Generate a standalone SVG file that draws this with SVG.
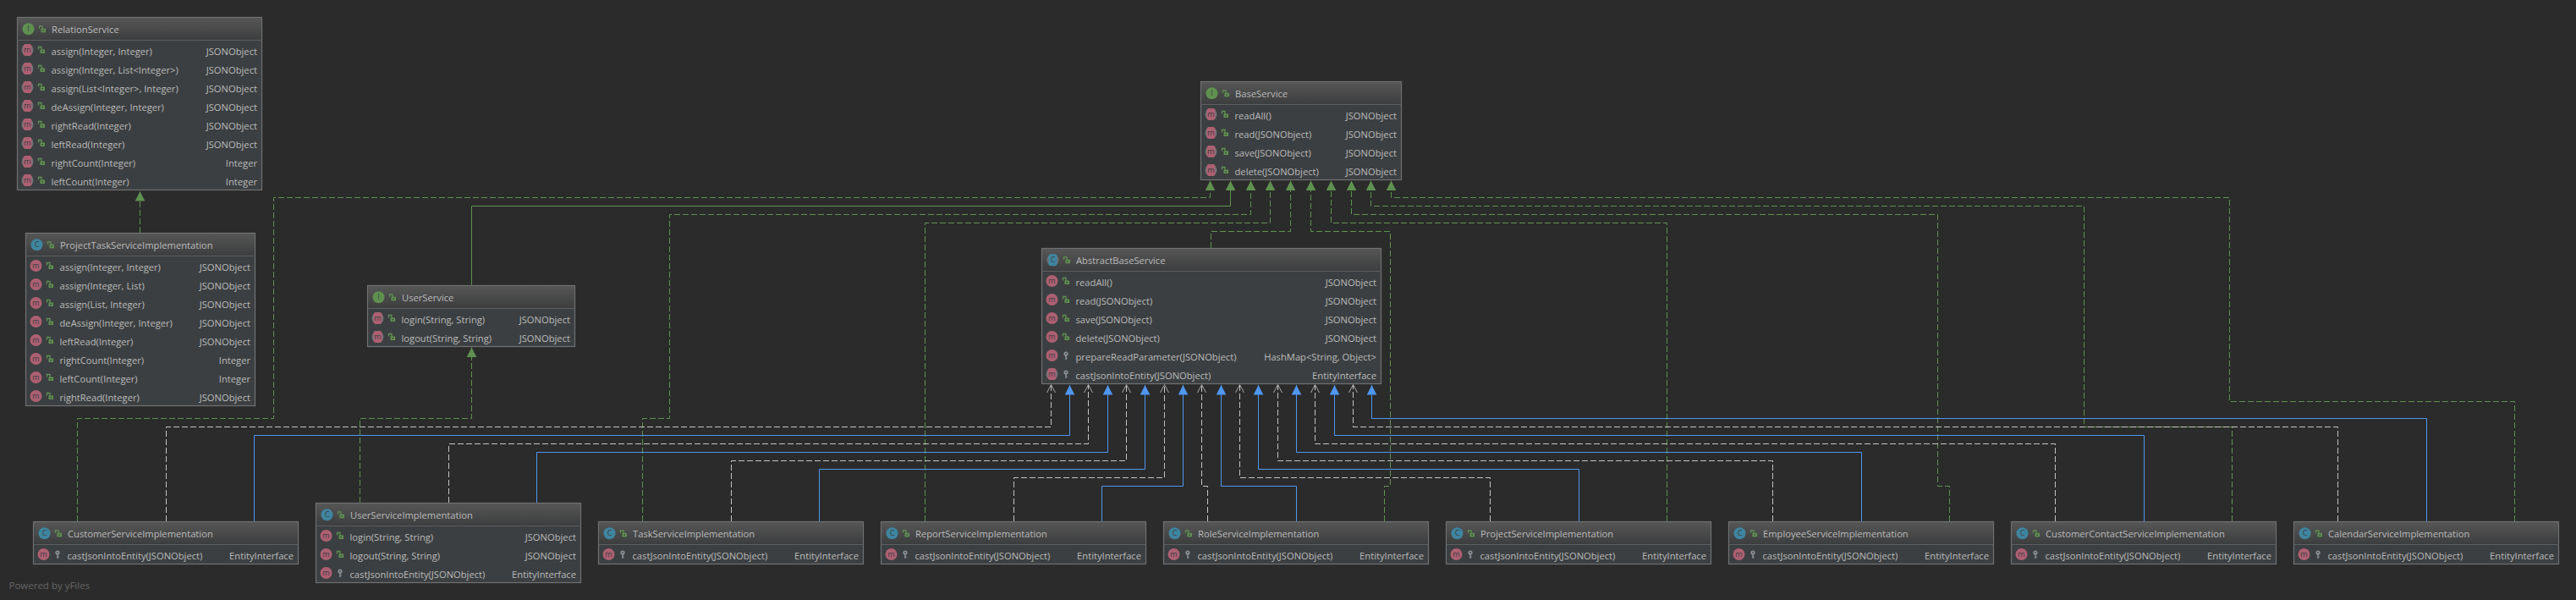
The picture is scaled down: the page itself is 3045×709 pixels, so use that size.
<svg xmlns="http://www.w3.org/2000/svg" width="3045" height="709" viewBox="0 0 3045 709">
<style>
.bg{fill:#2b2b2b}
.box{fill:#3c3f41;stroke:#6f7173;stroke-width:1.2}
.hd{fill:url(#hg)}
.sep{stroke:#5c5e60;stroke-width:1;fill:none}
text{font-family:"Open Sans","Noto Sans","Liberation Sans",sans-serif;fill:#bbbbbb}
.h{font-size:11.2px}
.t{font-size:11.2px}
.r{font-size:11.2px;text-anchor:end}
.il{font-size:9px;text-anchor:middle;fill:#3b3f41}
.c{fill:none;stroke-width:1}
.gd{stroke:#5f9150;stroke-dasharray:7 3;marker-end:url(#tg)}
.gs{stroke:#5f9150;marker-end:url(#tg)}
.wd{stroke:#c4c4c4;stroke-dasharray:7 3;marker-end:url(#oa)}
.bs{stroke:#4f97f0;marker-end:url(#tb)}
.pw{font-size:11.5px;fill:#666666}
</style>
<defs>
<linearGradient id="hg" x1="0" y1="0" x2="0" y2="1"><stop offset="0" stop-color="#565656"/><stop offset="1" stop-color="#3c3d3e"/></linearGradient>
<marker id="tg" markerUnits="userSpaceOnUse" markerWidth="12" markerHeight="12" refX="11.5" refY="6" orient="auto"><path d="M0 0.2L11.5 6L0 11.8Z" fill="#5f9150"/></marker>
<marker id="tb" markerUnits="userSpaceOnUse" markerWidth="12" markerHeight="12" refX="11.5" refY="6" orient="auto"><path d="M0 0.2L11.5 6L0 11.8Z" fill="#4f97f0"/></marker>
<marker id="oa" markerUnits="userSpaceOnUse" markerWidth="12" markerHeight="12" refX="11" refY="6" orient="auto"><path d="M1.5 1L11 6L1.5 11" fill="none" stroke="#a8a8a8" stroke-width="1"/></marker>
<g id="m"><circle r="7" fill="#ad6072"/><text class="il" y="3">m</text></g>
<g id="ma"><circle r="7" fill="#6d7276"/><rect x="-5" y="-7" width="10" height="14" rx="3" fill="#ad6072"/><text class="il" y="3">m</text></g>
<g id="ci"><circle r="7" fill="#3f85a0"/><text class="il" y="3">C</text></g>
<g id="ca"><circle r="7" fill="#6d7276"/><rect x="-5" y="-7" width="10" height="14" rx="3" fill="#3f85a0"/><text class="il" y="3">C</text></g>
<g id="ii"><circle r="7" fill="#5f9150"/><text class="il" y="3">I</text></g>
<g id="lk"><path d="M-3.5 -0.5V-3.5H0V0" fill="none" stroke="#5f9150" stroke-width="1.3"/><rect x="-1.5" y="-0.5" width="5.5" height="4.5" fill="#5f9150"/><rect x="0.5" y="1" width="1.5" height="1.5" fill="#3c3f41"/></g>
<g id="ky"><circle cy="-2" r="2.6" fill="#8a9096"/><circle cy="-2.2" r="0.9" fill="#3c3f41"/><rect x="-0.8" y="0" width="1.6" height="5" fill="#8a9096"/><rect x="0.8" y="2.5" width="1" height="1" fill="#8a9096"/></g>
</defs>
<rect class="bg" width="3045" height="709"/>
<g id="connectors">
<path class="c gd" d="M165.5 275V226"/>
<path class="c gd" d="M425.5 594V494.5H557.5V410.5"/>
<path class="c gd" d="M91.5 616V494.5H323.5V233.5H1430.5V213.5"/>
<path class="c gs" d="M557.5 337V243.5H1454.5V213.5"/>
<path class="c gd" d="M759.5 616V494.5H791.5V253.5H1478.5V213.5"/>
<path class="c gd" d="M1093.5 616V263.5H1501.5V213.5"/>
<path class="c gd" d="M1431.5 293V273.5H1525.5V213.5"/>
<path class="c gd" d="M1636.5 616V574.5H1643.5V273.5H1549.5V213.5"/>
<path class="c gd" d="M1970.5 616V263.5H1573.5V213.5"/>
<path class="c gd" d="M2304.5 616V574.5H2290.5V253.5H1597.5V213.5"/>
<path class="c gd" d="M2638.5 616V504.5H2463.5V243.5H1620.5V213.5"/>
<path class="c gd" d="M2972.5 616V474.5H2635.5V233.5H1644.5V213.5"/>
<path class="c wd" d="M196.5 616V504.5H1242.5V454.5"/>
<path class="c bs" d="M300.5 616V514.5H1264.5V455"/>
<path class="c wd" d="M530.5 594V524.5H1286.5V454.5"/>
<path class="c bs" d="M634.5 594V534.5H1309.5V455"/>
<path class="c wd" d="M864.5 616V544.5H1331.5V454.5"/>
<path class="c bs" d="M968.5 616V554.5H1353.5V455"/>
<path class="c wd" d="M1198.5 616V564.5H1376.5V454.5"/>
<path class="c bs" d="M1302.5 616V574.5H1398.5V455"/>
<path class="c wd" d="M1427.5 616V574.5H1420.5V454.5"/>
<path class="c bs" d="M1532.5 616V574.5H1443.5V455"/>
<path class="c wd" d="M1761.5 616V564.5H1465.5V454.5"/>
<path class="c bs" d="M1866.5 616V554.5H1487.5V455"/>
<path class="c wd" d="M2095.5 616V544.5H1510.5V454.5"/>
<path class="c bs" d="M2200.5 616V534.5H1532.5V455"/>
<path class="c wd" d="M2429.5 616V524.5H1554.5V454.5"/>
<path class="c bs" d="M2534.5 616V514.5H1577.5V455"/>
<path class="c wd" d="M2763.5 616V504.5H1599.5V454.5"/>
<path class="c bs" d="M2868.5 616V494.5H1621.5V455"/>
</g>
<g id="RelationService" transform="translate(20.5,20.5)">
<rect class="box" width="289" height="204"/><rect class="hd" x="0.5" y="0.5" width="288" height="26.5"/><path class="sep" d="M0 27H289"/>
<use href="#ii" x="13" y="13.8"/><use href="#lk" x="29.5" y="13.8"/><text class="h" x="40.5" y="18.5">RelationService</text>
<use href="#ma" x="12" y="38.5"/><use href="#lk" x="28.5" y="38.5"/><text class="t" x="40" y="44">assign(Integer, Integer)</text><text class="r" x="283.5" y="44">JSONObject</text>
<use href="#ma" x="12" y="60.5"/><use href="#lk" x="28.5" y="60.5"/><text class="t" x="40" y="66">assign(Integer, List&lt;Integer&gt;)</text><text class="r" x="283.5" y="66">JSONObject</text>
<use href="#ma" x="12" y="82.5"/><use href="#lk" x="28.5" y="82.5"/><text class="t" x="40" y="88">assign(List&lt;Integer&gt;, Integer)</text><text class="r" x="283.5" y="88">JSONObject</text>
<use href="#ma" x="12" y="104.5"/><use href="#lk" x="28.5" y="104.5"/><text class="t" x="40" y="110">deAssign(Integer, Integer)</text><text class="r" x="283.5" y="110">JSONObject</text>
<use href="#ma" x="12" y="126.5"/><use href="#lk" x="28.5" y="126.5"/><text class="t" x="40" y="132">rightRead(Integer)</text><text class="r" x="283.5" y="132">JSONObject</text>
<use href="#ma" x="12" y="148.5"/><use href="#lk" x="28.5" y="148.5"/><text class="t" x="40" y="154">leftRead(Integer)</text><text class="r" x="283.5" y="154">JSONObject</text>
<use href="#ma" x="12" y="170.5"/><use href="#lk" x="28.5" y="170.5"/><text class="t" x="40" y="176">rightCount(Integer)</text><text class="r" x="283.5" y="176">Integer</text>
<use href="#ma" x="12" y="192.5"/><use href="#lk" x="28.5" y="192.5"/><text class="t" x="40" y="198">leftCount(Integer)</text><text class="r" x="283.5" y="198">Integer</text>
</g>
<g id="ProjectTaskServiceImplementation" transform="translate(30.5,275.5)">
<rect class="box" width="271" height="204"/><rect class="hd" x="0.5" y="0.5" width="270" height="26.5"/><path class="sep" d="M0 27H271"/>
<use href="#ci" x="13" y="13.8"/><use href="#lk" x="29.5" y="13.8"/><text class="h" x="40.5" y="18.5">ProjectTaskServiceImplementation</text>
<use href="#m" x="12" y="38.5"/><use href="#lk" x="28.5" y="38.5"/><text class="t" x="40" y="44">assign(Integer, Integer)</text><text class="r" x="265.5" y="44">JSONObject</text>
<use href="#m" x="12" y="60.5"/><use href="#lk" x="28.5" y="60.5"/><text class="t" x="40" y="66">assign(Integer, List)</text><text class="r" x="265.5" y="66">JSONObject</text>
<use href="#m" x="12" y="82.5"/><use href="#lk" x="28.5" y="82.5"/><text class="t" x="40" y="88">assign(List, Integer)</text><text class="r" x="265.5" y="88">JSONObject</text>
<use href="#m" x="12" y="104.5"/><use href="#lk" x="28.5" y="104.5"/><text class="t" x="40" y="110">deAssign(Integer, Integer)</text><text class="r" x="265.5" y="110">JSONObject</text>
<use href="#m" x="12" y="126.5"/><use href="#lk" x="28.5" y="126.5"/><text class="t" x="40" y="132">leftRead(Integer)</text><text class="r" x="265.5" y="132">JSONObject</text>
<use href="#m" x="12" y="148.5"/><use href="#lk" x="28.5" y="148.5"/><text class="t" x="40" y="154">rightCount(Integer)</text><text class="r" x="265.5" y="154">Integer</text>
<use href="#m" x="12" y="170.5"/><use href="#lk" x="28.5" y="170.5"/><text class="t" x="40" y="176">leftCount(Integer)</text><text class="r" x="265.5" y="176">Integer</text>
<use href="#m" x="12" y="192.5"/><use href="#lk" x="28.5" y="192.5"/><text class="t" x="40" y="198">rightRead(Integer)</text><text class="r" x="265.5" y="198">JSONObject</text>
</g>
<g id="UserService" transform="translate(434.5,337.5)">
<rect class="box" width="245" height="72"/><rect class="hd" x="0.5" y="0.5" width="244" height="26.5"/><path class="sep" d="M0 27H245"/>
<use href="#ii" x="13" y="13.8"/><use href="#lk" x="29.5" y="13.8"/><text class="h" x="40.5" y="18.5">UserService</text>
<use href="#ma" x="12" y="38.5"/><use href="#lk" x="28.5" y="38.5"/><text class="t" x="40" y="44">login(String, String)</text><text class="r" x="239.5" y="44">JSONObject</text>
<use href="#ma" x="12" y="60.5"/><use href="#lk" x="28.5" y="60.5"/><text class="t" x="40" y="66">logout(String, String)</text><text class="r" x="239.5" y="66">JSONObject</text>
</g>
<g id="BaseService" transform="translate(1419.5,96.5)">
<rect class="box" width="237" height="116"/><rect class="hd" x="0.5" y="0.5" width="236" height="26.5"/><path class="sep" d="M0 27H237"/>
<use href="#ii" x="13" y="13.8"/><use href="#lk" x="29.5" y="13.8"/><text class="h" x="40.5" y="18.5">BaseService</text>
<use href="#ma" x="12" y="38.5"/><use href="#lk" x="28.5" y="38.5"/><text class="t" x="40" y="44">readAll()</text><text class="r" x="231.5" y="44">JSONObject</text>
<use href="#ma" x="12" y="60.5"/><use href="#lk" x="28.5" y="60.5"/><text class="t" x="40" y="66">read(JSONObject)</text><text class="r" x="231.5" y="66">JSONObject</text>
<use href="#ma" x="12" y="82.5"/><use href="#lk" x="28.5" y="82.5"/><text class="t" x="40" y="88">save(JSONObject)</text><text class="r" x="231.5" y="88">JSONObject</text>
<use href="#ma" x="12" y="104.5"/><use href="#lk" x="28.5" y="104.5"/><text class="t" x="40" y="110">delete(JSONObject)</text><text class="r" x="231.5" y="110">JSONObject</text>
</g>
<g id="AbstractBaseService" transform="translate(1231.5,293.5)">
<rect class="box" width="401" height="160"/><rect class="hd" x="0.5" y="0.5" width="400" height="26.5"/><path class="sep" d="M0 27H401"/>
<use href="#ca" x="13" y="13.8"/><use href="#lk" x="29.5" y="13.8"/><text class="h" x="40.5" y="18.5">AbstractBaseService</text>
<use href="#m" x="12" y="38.5"/><use href="#lk" x="28.5" y="38.5"/><text class="t" x="40" y="44">readAll()</text><text class="r" x="395.5" y="44">JSONObject</text>
<use href="#m" x="12" y="60.5"/><use href="#lk" x="28.5" y="60.5"/><text class="t" x="40" y="66">read(JSONObject)</text><text class="r" x="395.5" y="66">JSONObject</text>
<use href="#m" x="12" y="82.5"/><use href="#lk" x="28.5" y="82.5"/><text class="t" x="40" y="88">save(JSONObject)</text><text class="r" x="395.5" y="88">JSONObject</text>
<use href="#m" x="12" y="104.5"/><use href="#lk" x="28.5" y="104.5"/><text class="t" x="40" y="110">delete(JSONObject)</text><text class="r" x="395.5" y="110">JSONObject</text>
<use href="#m" x="12" y="126.5"/><use href="#ky" x="28.5" y="126.5"/><text class="t" x="40" y="132">prepareReadParameter(JSONObject)</text><text class="r" x="395.5" y="132">HashMap&lt;String, Object&gt;</text>
<use href="#ma" x="12" y="148.5"/><use href="#ky" x="28.5" y="148.5"/><text class="t" x="40" y="154">castJsonIntoEntity(JSONObject)</text><text class="r" x="395.5" y="154">EntityInterface</text>
</g>
<g id="UserServiceImplementation" transform="translate(373.5,594.5)">
<rect class="box" width="313" height="94"/><rect class="hd" x="0.5" y="0.5" width="312" height="26.5"/><path class="sep" d="M0 27H313"/>
<use href="#ci" x="13" y="13.8"/><use href="#lk" x="29.5" y="13.8"/><text class="h" x="40.5" y="18.5">UserServiceImplementation</text>
<use href="#m" x="12" y="38.5"/><use href="#lk" x="28.5" y="38.5"/><text class="t" x="40" y="44">login(String, String)</text><text class="r" x="307.5" y="44">JSONObject</text>
<use href="#m" x="12" y="60.5"/><use href="#lk" x="28.5" y="60.5"/><text class="t" x="40" y="66">logout(String, String)</text><text class="r" x="307.5" y="66">JSONObject</text>
<use href="#m" x="12" y="82.5"/><use href="#ky" x="28.5" y="82.5"/><text class="t" x="40" y="88">castJsonIntoEntity(JSONObject)</text><text class="r" x="307.5" y="88">EntityInterface</text>
</g>
<g id="CustomerServiceImplementation" transform="translate(39.5,616.5)">
<rect class="box" width="313" height="50"/><rect class="hd" x="0.5" y="0.5" width="312" height="26.5"/><path class="sep" d="M0 27H313"/>
<use href="#ci" x="13" y="13.8"/><use href="#lk" x="29.5" y="13.8"/><text class="h" x="40.5" y="18.5">CustomerServiceImplementation</text>
<use href="#m" x="12" y="38.5"/><use href="#ky" x="28.5" y="38.5"/><text class="t" x="40" y="44">castJsonIntoEntity(JSONObject)</text><text class="r" x="307.5" y="44">EntityInterface</text>
</g>
<g id="TaskServiceImplementation" transform="translate(707.5,616.5)">
<rect class="box" width="313" height="50"/><rect class="hd" x="0.5" y="0.5" width="312" height="26.5"/><path class="sep" d="M0 27H313"/>
<use href="#ci" x="13" y="13.8"/><use href="#lk" x="29.5" y="13.8"/><text class="h" x="40.5" y="18.5">TaskServiceImplementation</text>
<use href="#m" x="12" y="38.5"/><use href="#ky" x="28.5" y="38.5"/><text class="t" x="40" y="44">castJsonIntoEntity(JSONObject)</text><text class="r" x="307.5" y="44">EntityInterface</text>
</g>
<g id="ReportServiceImplementation" transform="translate(1041.5,616.5)">
<rect class="box" width="313" height="50"/><rect class="hd" x="0.5" y="0.5" width="312" height="26.5"/><path class="sep" d="M0 27H313"/>
<use href="#ci" x="13" y="13.8"/><use href="#lk" x="29.5" y="13.8"/><text class="h" x="40.5" y="18.5">ReportServiceImplementation</text>
<use href="#m" x="12" y="38.5"/><use href="#ky" x="28.5" y="38.5"/><text class="t" x="40" y="44">castJsonIntoEntity(JSONObject)</text><text class="r" x="307.5" y="44">EntityInterface</text>
</g>
<g id="RoleServiceImplementation" transform="translate(1375.5,616.5)">
<rect class="box" width="313" height="50"/><rect class="hd" x="0.5" y="0.5" width="312" height="26.5"/><path class="sep" d="M0 27H313"/>
<use href="#ci" x="13" y="13.8"/><use href="#lk" x="29.5" y="13.8"/><text class="h" x="40.5" y="18.5">RoleServiceImplementation</text>
<use href="#m" x="12" y="38.5"/><use href="#ky" x="28.5" y="38.5"/><text class="t" x="40" y="44">castJsonIntoEntity(JSONObject)</text><text class="r" x="307.5" y="44">EntityInterface</text>
</g>
<g id="ProjectServiceImplementation" transform="translate(1709.5,616.5)">
<rect class="box" width="313" height="50"/><rect class="hd" x="0.5" y="0.5" width="312" height="26.5"/><path class="sep" d="M0 27H313"/>
<use href="#ci" x="13" y="13.8"/><use href="#lk" x="29.5" y="13.8"/><text class="h" x="40.5" y="18.5">ProjectServiceImplementation</text>
<use href="#m" x="12" y="38.5"/><use href="#ky" x="28.5" y="38.5"/><text class="t" x="40" y="44">castJsonIntoEntity(JSONObject)</text><text class="r" x="307.5" y="44">EntityInterface</text>
</g>
<g id="EmployeeServiceImplementation" transform="translate(2043.5,616.5)">
<rect class="box" width="313" height="50"/><rect class="hd" x="0.5" y="0.5" width="312" height="26.5"/><path class="sep" d="M0 27H313"/>
<use href="#ci" x="13" y="13.8"/><use href="#lk" x="29.5" y="13.8"/><text class="h" x="40.5" y="18.5">EmployeeServiceImplementation</text>
<use href="#m" x="12" y="38.5"/><use href="#ky" x="28.5" y="38.5"/><text class="t" x="40" y="44">castJsonIntoEntity(JSONObject)</text><text class="r" x="307.5" y="44">EntityInterface</text>
</g>
<g id="CustomerContactServiceImplementation" transform="translate(2377.5,616.5)">
<rect class="box" width="313" height="50"/><rect class="hd" x="0.5" y="0.5" width="312" height="26.5"/><path class="sep" d="M0 27H313"/>
<use href="#ci" x="13" y="13.8"/><use href="#lk" x="29.5" y="13.8"/><text class="h" x="40.5" y="18.5">CustomerContactServiceImplementation</text>
<use href="#m" x="12" y="38.5"/><use href="#ky" x="28.5" y="38.5"/><text class="t" x="40" y="44">castJsonIntoEntity(JSONObject)</text><text class="r" x="307.5" y="44">EntityInterface</text>
</g>
<g id="CalendarServiceImplementation" transform="translate(2711.5,616.5)">
<rect class="box" width="313" height="50"/><rect class="hd" x="0.5" y="0.5" width="312" height="26.5"/><path class="sep" d="M0 27H313"/>
<use href="#ci" x="13" y="13.8"/><use href="#lk" x="29.5" y="13.8"/><text class="h" x="40.5" y="18.5">CalendarServiceImplementation</text>
<use href="#m" x="12" y="38.5"/><use href="#ky" x="28.5" y="38.5"/><text class="t" x="40" y="44">castJsonIntoEntity(JSONObject)</text><text class="r" x="307.5" y="44">EntityInterface</text>
</g>
<text class="pw" x="10.5" y="696">Powered by yFiles</text>
</svg>
